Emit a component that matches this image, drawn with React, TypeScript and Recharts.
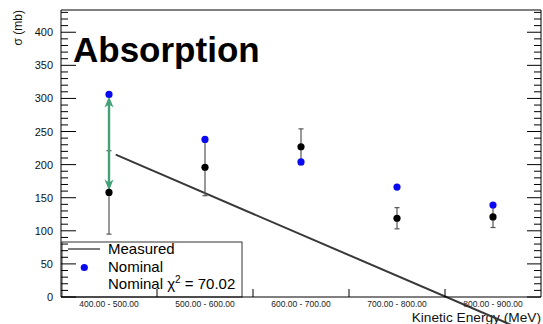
import { ScatterChart, Scatter, XAxis, YAxis, ErrorBar, ReferenceLine } from "recharts";

// energy bins (MeV)
const binCenters = [450, 550, 650, 750, 850];
const binLabels = [
  "400.00 - 500.00",
  "500.00 - 600.00",
  "600.00 - 700.00",
  "700.00 - 800.00",
  "800.00 - 900.00",
];
const binEdges = [500, 600, 700, 800];

// cross sections (mb)
const measured = [158, 196, 227, 119, 121];
const measuredErr = [63, 43, 27, 16, 16];
const nominal = [306, 238, 204, 166, 139];

// straight "Measured" trend line end points
const lineEnergy = [457, 875];
const lineSigma = [215, -46];

const chi2 = "70.02";

const yTicks = Array.from({ length: 44 }, (_, i) => i * 10);
const xTicks = [450, 500, 550, 600, 650, 700, 750, 800, 850];

const measuredData = binCenters.map((e, i) => ({ e, y: measured[i], err: measuredErr[i] }));
const nominalData = binCenters.map((e, i) => ({ e, y: nominal[i] }));

const FONT = "'Liberation Sans', Arial, Helvetica, sans-serif";
const Y_DOMAIN: [number, number] = [0, 433.6];
const X_DOMAIN: [number, number] = [400, 900];
const GREEN = "#44a077";

const LeftTick = ({ x, y, payload }: any) => {
  const v = payload.value;
  const major = v % 50 === 0;
  return (
    <g>
      <line x1={x + 8} x2={x + 8 + (major ? 15 : 7)} y1={y} y2={y} stroke="#000" />
      {major && (
        <text x={x} y={y + 4} textAnchor="end" fontSize={11} fontFamily={FONT} fill="#111">
          {v}
        </text>
      )}
    </g>
  );
};

const RightTick = ({ x, y, payload }: any) => {
  const major = payload.value % 50 === 0;
  return <line x1={x} x2={x - (major ? 14 : 7)} y1={y} y2={y} stroke="#000" />;
};

const BottomTick = ({ x, y, payload }: any) => {
  const idx = binCenters.indexOf(payload.value);
  if (idx < 0) return <line x1={x} x2={x} y1={y} y2={y - 8} stroke="#000" />;
  return (
    <text x={x} y={y + 10} textAnchor="middle" fontSize={8.5} fontFamily={FONT} fill="#222">
      {binLabels[idx]}
    </text>
  );
};

const TopTick = ({ x, y }: any) => <line x1={x} x2={x} y1={y} y2={y + 8} stroke="#000" />;

// double headed arrow between nominal and measured values
const DoubleArrow = (props: any) => {
  const { x1, y1, x2, y2 } = props;
  const top = Math.min(y1, y2) + 2;
  const bot = Math.max(y1, y2) - 2;
  const L = 11;
  const W = 4.5;
  const N = 3;
  return (
    <g>
      <line x1={x1} x2={x2} y1={top + 4} y2={bot - 4} stroke={GREEN} strokeWidth={2.4} />
      <polygon
        points={`${x1},${top} ${x1 - W},${top + L} ${x1},${top + L - N} ${x1 + W},${top + L}`}
        fill={GREEN}
      />
      <polygon
        points={`${x1},${bot} ${x1 - W},${bot - L} ${x1},${bot - L + N} ${x1 + W},${bot - L}`}
        fill={GREEN}
      />
    </g>
  );
};

const Dot = (color: string) => (p: any) => <circle cx={p.cx} cy={p.cy} r={3.6} fill={color} />;

export default function App() {
  return (
    <div style={{ position: "absolute", left: 0, top: 0, width: 543, height: 324, background: "#fff", fontFamily: FONT }}>
      <svg width={543} height={324} style={{ position: "absolute", left: 0, top: 0 }}>
        <text x={73} y={62} fontSize={35} fontWeight="bold" fontFamily={FONT} fill="#000">
          Absorption
        </text>
        <text transform="translate(22,10) rotate(-90)" textAnchor="end" fontSize={12} fontFamily={FONT} fill="#111">
          σ (mb)
        </text>
        <text x={541} y={321.5} textAnchor="end" fontSize={13.7} fontFamily={FONT} fill="#111">
          Kinetic Energy (MeV)
        </text>
        {/* legend */}
        <rect x={62} y={242} width={180} height={55} fill="none" stroke="#333" />
        <line x1={68} x2={100} y1={249} y2={249} stroke="#444" strokeWidth={1.4} />
        <text x={108} y={254} fontSize={15} fontFamily={FONT} fill="#000">Measured</text>
        <circle cx={84.3} cy={267.5} r={3.6} fill="#0a0af0" />
        <text x={108} y={271.7} fontSize={15} fontFamily={FONT} fill="#000">Nominal</text>
        <text x={108} y={289.3} fontSize={15} fontFamily={FONT} fill="#000">
          Nominal χ<tspan fontSize={10} dy={-6}>2</tspan>
          <tspan dy={6}> = {chi2}</tspan>
        </text>
      </svg>
      <div style={{ position: "absolute", left: 0, top: 0 }}>
        <ScatterChart width={543} height={324} margin={{ top: 9, right: 1, bottom: 0, left: 0 }}>
          <XAxis
            dataKey="e"
            type="number"
            domain={X_DOMAIN}
            allowDataOverflow
            ticks={xTicks}
            interval={0}
            height={27}
            tickSize={0}
            tickMargin={0}
            tickLine={false}
            tick={BottomTick}
            axisLine={{ stroke: "#000" }}
          />
          <XAxis
            xAxisId="top"
            orientation="top"
            type="number"
            domain={X_DOMAIN}
            allowDataOverflow
            ticks={binEdges}
            interval={0}
            height={1}
            tickSize={0}
            tickMargin={0}
            tickLine={false}
            tick={TopTick}
            axisLine={{ stroke: "#000" }}
          />
          <YAxis
            dataKey="y"
            type="number"
            domain={Y_DOMAIN}
            allowDataOverflow
            ticks={yTicks}
            interval={0}
            width={61}
            tickSize={0}
            tickMargin={8}
            tickLine={false}
            tick={LeftTick}
            axisLine={{ stroke: "#000" }}
          />
          <YAxis
            yAxisId="r"
            orientation="right"
            type="number"
            domain={Y_DOMAIN}
            allowDataOverflow
            ticks={yTicks}
            interval={0}
            width={1}
            tickSize={0}
            tickMargin={0}
            tickLine={false}
            tick={RightTick}
            axisLine={{ stroke: "#000" }}
          />
          <ReferenceLine
            segment={[
              { x: lineEnergy[0], y: lineSigma[0] },
              { x: lineEnergy[1], y: lineSigma[1] },
            ]}
            ifOverflow="visible"
            stroke="#383838"
            strokeWidth={2}
          />
          <Scatter name="err" data={measuredData} shape={() => <g />} isAnimationActive={false}>
            <ErrorBar dataKey="err" direction="y" width={2.5} stroke="#555" strokeWidth={1.2} />
          </Scatter>
          <ReferenceLine
            segment={[
              { x: binCenters[0], y: nominal[0] },
              { x: binCenters[0], y: measured[0] },
            ]}
            ifOverflow="visible"
            shape={DoubleArrow}
          />
          <Scatter name="Measured" data={measuredData} shape={Dot("#000")} isAnimationActive={false} />
          <Scatter name="Nominal" data={nominalData} shape={Dot("#0a0af0")} isAnimationActive={false} />
        </ScatterChart>
      </div>
    </div>
  );
}
